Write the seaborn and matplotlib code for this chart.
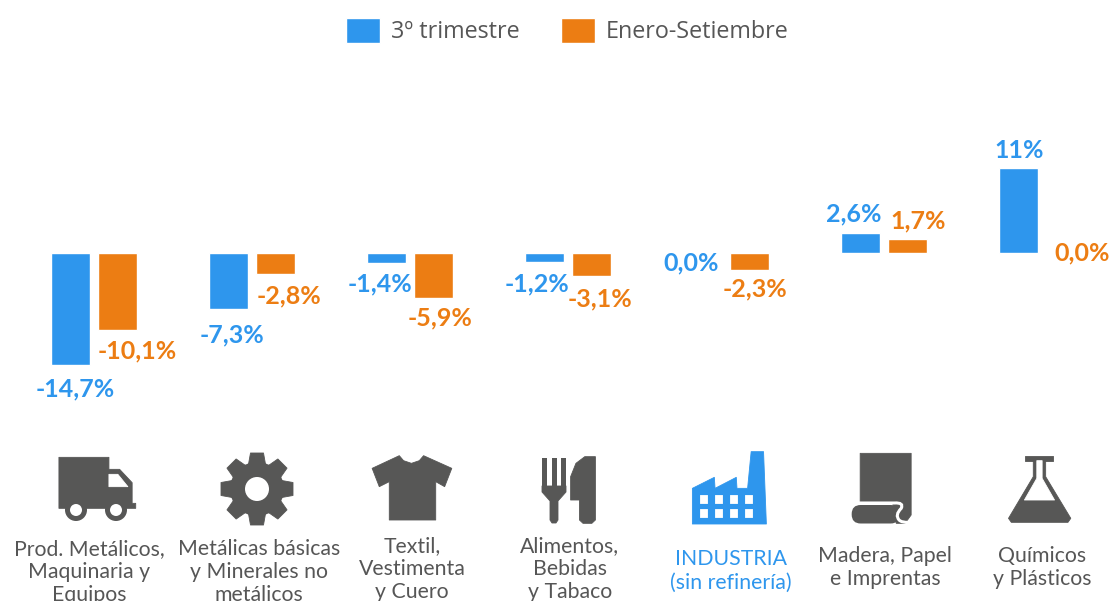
import matplotlib
matplotlib.use("Agg")
import matplotlib.pyplot as plt
from matplotlib.patches import Polygon, Circle, Rectangle, FancyBboxPatch, PathPatch
from matplotlib.path import Path
import numpy as np
import pandas as pd
import seaborn as sns

# ---- data ----
sectores = ["Prod. Metálicos,\nMaquinaria y\nEquipos",
            "Metálicas básicas\ny Minerales no\nmetálicos",
            "Textil,\nVestimenta\ny Cuero",
            "Alimentos,\nBebidas\ny Tabaco",
            "INDUSTRIA\n(sin refinería)",
            "Madera, Papel\ne Imprentas",
            "Químicos\ny Plásticos"]
trimestre = [-14.7, -7.3, -1.4, -1.2, 0.0, 2.6, 11.0]
enero_set = [-10.1, -2.8, -5.9, -3.1, -2.3, 1.7, 0.0]
etiq_trim = ["-14,7%", "-7,3%", "-1,4%", "-1,2%", "0,0%", "2,6%", "11%"]
etiq_ene = ["-10,1%", "-2,8%", "-5,9%", "-3,1%", "-2,3%", "1,7%", "0,0%"]
series = ["3º trimestre", "Enero-Setiembre"]

# ---- style ----
AZUL, NARANJA, GRIS, TXT = "#2E96ED", "#EC7D13", "#575756", "#565656"
W, H = 1115, 601
PX_CAT, X0 = 158.0, 94.0
ZERO, PX_VAL = 252.5, 7.68
off_trim = [(4.5, 24), (3.5, 26), (-6.5, 21), (-7.5, 22), (-11.5, 10), (-6.5, -19), (0.5, -18)]
off_ene = [(20, 21), (13.5, 22), (7, 20), (8.5, 23), (5.5, 19), (10.5, -19), (16.5, 0)]
lab_pos = [(89, 572), (259, 572), (412, 569), (570, 569), (731, 571), (885, 567.5), (1042, 567.5)]

sns.set_theme(style="white")
plt.rcParams["font.family"] = ["Lato", "DejaVu Sans"]

df = pd.DataFrame({
    "sector": sectores * 2,
    "valor": trimestre + enero_set,
    "periodo": [series[0]] * 7 + [series[1]] * 7,
})

fig = plt.figure(figsize=(W / 100, H / 100), dpi=100)
ax = fig.add_axes([0, 0, 1, 1])
sns.barplot(data=df, x="sector", y="valor", hue="periodo", hue_order=series,
            order=sectores, palette=[AZUL, NARANJA], width=94 / PX_CAT, gap=8 / 47,
            errorbar=None, saturation=1, ax=ax)
ax.set_xlim(-X0 / PX_CAT, (W - X0) / PX_CAT)
ax.set_ylim(-(H - ZERO) / PX_VAL, ZERO / PX_VAL)
ax.set_axis_off()

slot = 47 / PX_CAT / 2
for i in range(7):
    for vals, labs, offs, col, sgn in ((trimestre, etiq_trim, off_trim, AZUL, -1),
                                       (enero_set, etiq_ene, off_ene, NARANJA, 1)):
        ax.annotate(labs[i], (i + sgn * slot, vals[i]), xytext=(offs[i][0], -offs[i][1]),
                    textcoords="offset pixels", ha="center", va="center",
                    color=col, fontsize=18, fontweight="bold", family="Lato")

h, l = ax.get_legend_handles_labels()
ax.legend(h, l, ncol=2, frameon=False, loc="center", bbox_to_anchor=(567.5 / W, 1 - 31 / H),
          prop={"family": "Open Sans", "size": 16.8}, labelcolor=TXT,
          handlelength=1.42, handleheight=1.3, handletextpad=0.48, columnspacing=1.8)

# overlay in pixel coordinates for pictograms and sector names
ov = fig.add_axes([0, 0, 1, 1], zorder=3)
ov.set_xlim(0, W); ov.set_ylim(H, 0); ov.set_axis_off(); ov.patch.set_alpha(0)

for name, (x, y), i in zip(sectores, lab_pos, range(7)):
    ov.text(x, y, name, ha="center", va="center", linespacing=1.21, clip_on=False,
            color=AZUL if i == 4 else TXT, fontsize=15.3)

def z1(p):
    return [(a / 2.8, b / 3 + 440) for a, b in p]

def z2(p):
    return [(560 + a / 2.825, b / 3 + 440) for a, b in p]

def poly(p, c=GRIS):
    ov.add_patch(Polygon(p, closed=True, fc=c, ec=c, lw=0.6, joinstyle="round"))

# truck
poly(z1([(165, 52), (305, 52), (305, 88), (335, 88), (370, 128), (370, 190), (380, 190),
         (380, 205), (165, 205)]))
poly(z1([(305, 103), (330, 103), (358, 140), (305, 140)]), "white")
for cx in (76, 116):
    ov.add_patch(Circle((cx, 510), 11, fc=GRIS, ec="none"))
    ov.add_patch(Circle((cx, 510), 6, fc="white", ec="none"))

# gear
ov.add_patch(Circle((257, 489), 27, fc=GRIS, ec="none"))
for ang in np.arange(8) * np.pi / 4 + np.pi / 2:
    d = np.array([np.cos(ang), np.sin(ang)]); n = np.array([-d[1], d[0]])
    c = np.array([257, 489])
    poly([tuple(c + 22 * d + 9 * n), tuple(c + 36 * d + 6.5 * n),
          tuple(c + 36 * d - 6.5 * n), tuple(c + 22 * d - 9 * n)])
ov.add_patch(Circle((257, 489), 12, fc="white", ec="none"))

# shirt
poly(z1([(1042, 85), (1118, 47), (1130, 62), (1152, 70), (1174, 62), (1186, 47), (1265, 85),
         (1245, 140), (1220, 125), (1220, 240), (1090, 240), (1090, 125), (1062, 140)]))

# fork and knife
for xa in (542, 551.5, 561):
    ov.add_patch(Rectangle((xa, 457.5), 5, 32, fc=GRIS, ec="none"))
poly([(542, 486), (566, 486), (566, 492), (558, 501), (558, 520), (556, 523), (552, 523),
      (550, 520), (550, 501), (542, 492)])
poly(z2([(100, 50), (70, 50), (45, 70), (30, 110), (30, 180), (55, 180), (55, 240), (65, 250),
         (90, 250), (100, 240)]))

# factory
poly(z2([(374, 145), (436, 112), (438, 145), (498, 112), (500, 145), (530, 145), (540, 35),
         (575, 35), (583, 252), (374, 252)]), AZUL)
for xw in (395, 437, 480, 522):
    for yw in (165, 208):
        poly(z2([(xw, yw), (xw + 21, yw), (xw + 21, yw + 23), (xw, yw + 23)]), "white")

# paper roll
poly(z2([(848, 40), (992, 40), (992, 225), (975, 250), (950, 250), (940, 190), (848, 190)]))
rx, ry = z2([(824, 195)])[0]
ov.add_patch(FancyBboxPatch((rx, ry), 48, 18.5, boxstyle="round,pad=0,rounding_size=9",
                            fc=GRIS, ec="none"))
curl = z2([(835, 189), (945, 189), (972, 187), (964, 205), (945, 225), (958, 240), (965, 248), (985, 247)])
ov.add_patch(PathPatch(Path(curl, [Path.MOVETO, Path.LINETO, Path.CURVE3, Path.CURVE3,
                                   Path.CURVE3, Path.CURVE3, Path.CURVE3, Path.CURVE3]),
                       fc="none", ec="white", lw=2.2, capstyle="round"))

# flask
poly(z2([(1337, 60), (1372, 60), (1372, 110), (1443, 235), (1435, 247), (1275, 247), (1267, 235),
         (1337, 110)]))
poly(z2([(1315, 47), (1393, 47), (1393, 62), (1315, 62)]))
poly(z2([(1347, 62), (1362, 62), (1362, 115), (1397, 180), (1312, 180), (1347, 115)]), "white")

fig.savefig("out.png", dpi=100, facecolor="white")
